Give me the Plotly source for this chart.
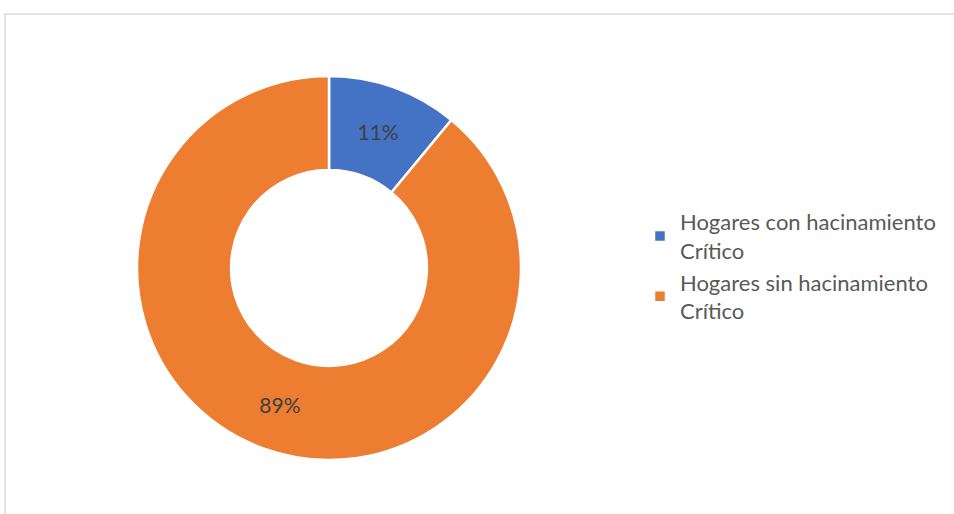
import plotly.graph_objects as go

labels = ["Hogares con hacinamiento<br>Crítico", "Hogares sin hacinamiento<br>Crítico"]
values = [11, 89]
colors = ["#4472C4", "#ED7D31"]

W, H = 954, 514
cx, cy, R = 329, 268, 192

fig = go.Figure(go.Pie(
    labels=labels,
    values=values,
    hole=0.51,
    sort=False,
    direction="clockwise",
    rotation=0,
    marker=dict(colors=colors, line=dict(color="white", width=2.5)),
    textinfo="percent",
    texttemplate="%{percent:.0%}",
    textposition="inside",
    insidetextorientation="horizontal",
    textfont=dict(family="Lato", size=21, color="#404040"),
    domain=dict(x=[(cx - R) / W, (cx + R) / W], y=[1 - (cy + R) / H, 1 - (cy - R) / H]),
))

fig.update_layout(
    width=W, height=H,
    margin=dict(l=0, r=0, t=0, b=0),
    paper_bgcolor="white",
    font=dict(family="Lato", color="#595959"),
    legend=dict(
        x=640 / W, y=1 - 201 / H, xanchor="left", yanchor="top",
        font=dict(family="Lato", size=22, color="#595959"),
    ),
    shapes=[dict(type="rect", xref="paper", yref="paper",
                 x0=5 / W, x1=1.02, y0=-0.02, y1=1 - 14 / H,
                 line=dict(color="#D9D9D9", width=1.5))],
)

fig.write_html("out.html", config={"displayModeBar": False},
               post_script="document.body.style.margin='0';")
